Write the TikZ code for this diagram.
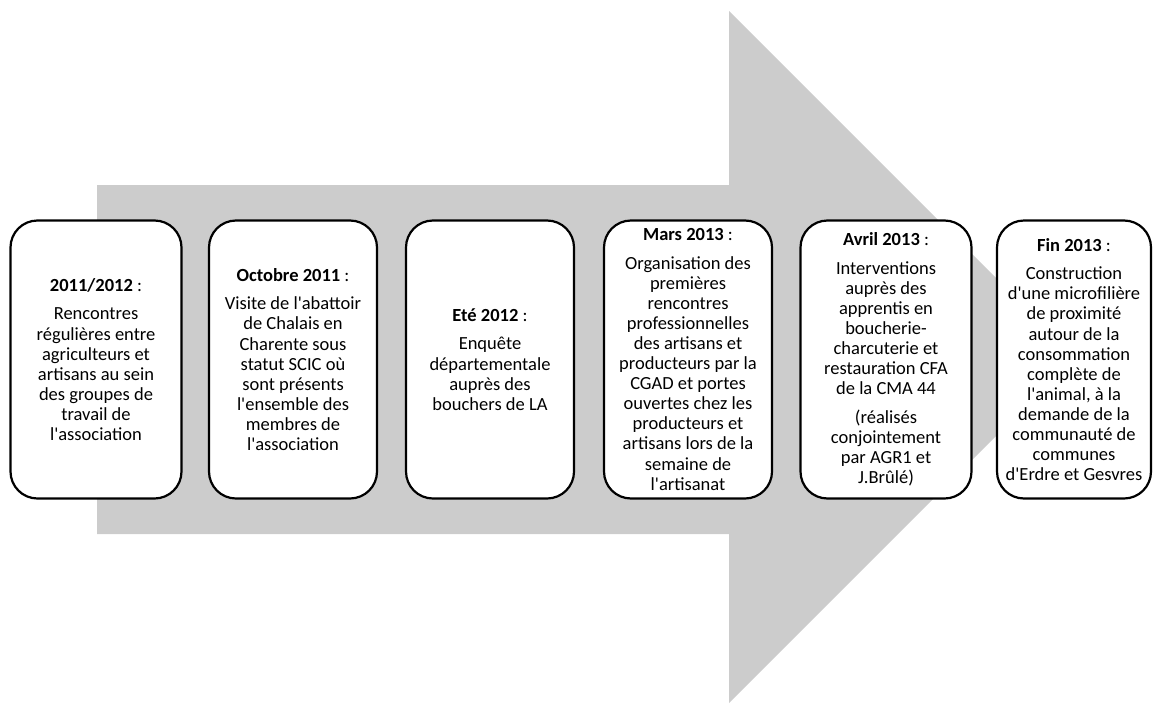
\documentclass[tikz,border=0pt]{standalone}
\usepackage{fontspec}
\setmainfont{Carlito}[Ligatures=TeXOff]
\definecolor{arrowgrey}{RGB}{204,204,204}
\tikzset{
  evbox/.style={draw=black, line width=2.2pt, fill=white, rounded corners=27pt,
    minimum width=168pt, minimum height=278pt, align=center, inner sep=0pt,
    font=\fontsize{18.5}{20.1}\selectfont},
}
\begin{document}
\begin{tikzpicture}[x=1pt,y=-1pt]
\useasboundingbox (0,0) rectangle (1153,704);
\fill[arrowgrey] (97,185) -- (729,185) -- (729,11) -- (1075,357) -- (729,703) -- (729,534) -- (97,534) -- cycle;

\node[evbox, minimum width=171pt] (b1) at (96,359.5) {\textbf{2011/2012} :\\[8.5pt]Rencontres\\régulières entre\\agriculteurs et\\artisans au sein\\des groupes de\\travail de\\l'association};
\node[evbox] (b2) at (293,359.5) {\textbf{Octobre 2011} :\\[8.5pt]Visite de l'abattoir\\de Chalais en\\Charente sous\\statut SCIC où\\sont présents\\l'ensemble des\\membres de\\l'association};
\node[evbox] (b3) at (490,359.5) {\textbf{Eté 2012} :\\[8.5pt]Enquête\\départementale\\auprès des\\bouchers de LA};
\node[evbox] (b4) at (688,359.5) {\textbf{Mars 2013} :\\[8pt]Organisation des\\premières\\rencontres\\professionnelles\\des artisans et\\producteurs par la\\CGAD et portes\\ouvertes chez les\\producteurs et\\artisans lors de la\\semaine de\\l'artisanat};
\node[evbox, minimum width=171pt] (b5) at (886,359.5) {\textbf{Avril 2013} :\\[8.5pt]Interventions\\auprès des\\apprentis en\\boucherie-\\charcuterie et\\restauration CFA\\de la CMA 44\\[8.5pt](réalisés\\conjointement\\par AGR1 et\\J.Brûlé)};
\node[evbox, minimum width=154pt] (b6) at (1074,359.5) {\textbf{Fin 2013} :\\[8.5pt]Construction\\d'une microfilière\\de proximité\\autour de la\\consommation\\complète de\\l'animal, à la\\demande de la\\communauté de\\communes\\d'Erdre et Gesvres};
\end{tikzpicture}
\end{document}
